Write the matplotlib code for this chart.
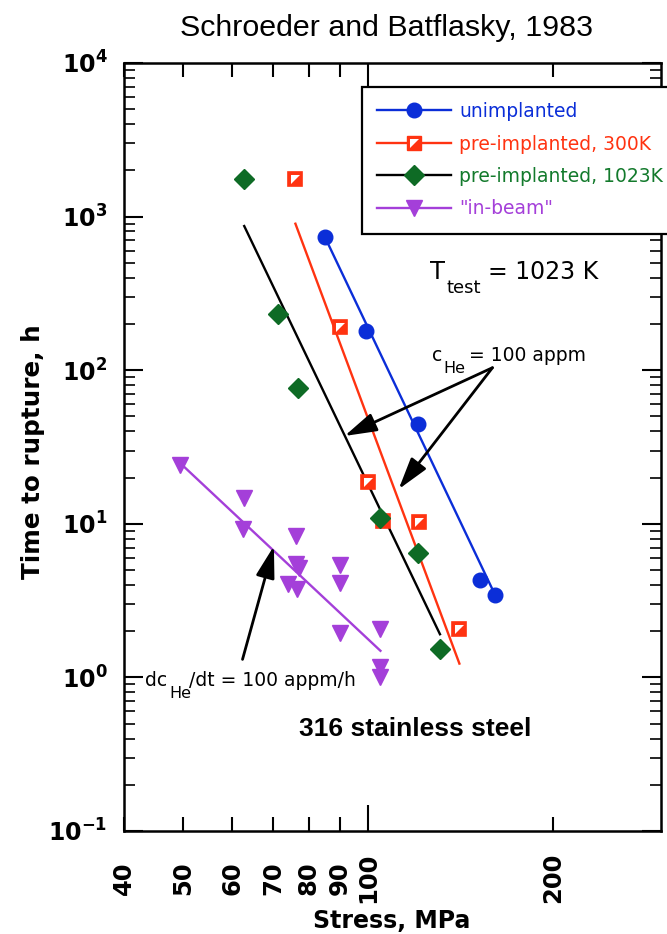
import matplotlib
matplotlib.use("Agg")
import matplotlib.pyplot as plt
from matplotlib.lines import Line2D
from matplotlib.legend_handler import HandlerTuple
from matplotlib.ticker import LogLocator, FixedLocator, FixedFormatter, NullFormatter
from matplotlib import font_manager as fm

# ---------------- data ----------------
unimpl_stress = [85.0, 99.0, 120.7, 152.2, 161.0]
unimpl_time = [736, 180, 44.4, 4.29, 3.44]

pre300_stress = [76.1, 89.8, 99.8, 105.6, 120.8, 140.8]
pre300_time = [1750, 192, 18.7, 10.4, 10.2, 2.06]

pre1023_stress = [62.7, 71.3, 76.7, 104.6, 120.7, 130.9]
pre1023_time = [1750, 233, 76.2, 10.9, 6.49, 1.54]

inbeam_stress = [49.3, 62.8, 62.4, 76.2, 76.2, 77.1, 74.0, 76.5,
                 89.8, 89.8, 89.8, 104.7, 104.7, 104.7]
inbeam_time = [24.1, 14.8, 9.2, 8.33, 5.45, 5.13, 4.04, 3.75,
               5.37, 4.14, 1.95, 2.06, 1.17, 1.0]

# fitted trend lines (c_He = 100 appm, dc/dt = 100 appm/h)
unimpl_fit_stress = [85.0, 161.0]
unimpl_fit_time = [736, 3.44]
pre300_fit_stress = [76.1, 140.8]
pre300_fit_time = [899, 1.23]
pre1023_fit_stress = [62.8, 130.9]
pre1023_fit_time = [868, 1.91]
inbeam_fit_stress = [49.3, 104.7]
inbeam_fit_time = [25.0, 1.49]

series_labels = ["unimplanted", "pre-implanted, 300K",
                 "pre-implanted, 1023K", "\"in-beam\""]

xmajor_ticks = [100]
xmajor_labels = ["100"]
xminor_ticks = [40, 50, 60, 70, 80, 90, 200]
xminor_labels = ["40", "50", "60", "70", "80", "90", "200"]
ytick_values = [0.1, 1, 10, 100, 1000, 10000]
ytick_labels = [r"$\mathbf{10^{-1}}$", r"$\mathbf{10^{0}}$", r"$\mathbf{10^{1}}$",
                r"$\mathbf{10^{2}}$", r"$\mathbf{10^{3}}$", r"$\mathbf{10^{4}}$"]

# arrows (tail, tip) in data units
arrow_che_tail = (159.4, 103.8)
arrow_che_tips = [(91.5, 37.3), (112.1, 16.8)]
arrow_dc_tail = (62.4, 1.31)
arrow_dc_tip = (70.2, 7.17)

# ---------------- style ----------------
BLUE = "#0B2ED8"
RED = "#FF3311"
GREEN = "#0E6B25"
GREEN_TXT = "#137A2C"
PURPLE = "#A43FD9"

names = {f.name for f in fm.fontManager.ttflist}
if "Liberation Sans Narrow" in names:
    NARROW, NSCALE = "Liberation Sans Narrow", 1.0
else:
    NARROW, NSCALE = "Liberation Sans", 0.84

plt.rcParams["font.family"] = ["DejaVu Sans"]
plt.rcParams["mathtext.fontset"] = "dejavusans"

W, H = 667, 934
fig = plt.figure(figsize=(W / 100, H / 100), dpi=100)


def fx(px):
    return px / W


def fy(py):
    return 1 - py / H


ax = fig.add_axes([fx(124), fy(831), fx(661) - fx(124), fy(63) - fy(831)])
ax.set_xscale("log")
ax.set_yscale("log")

# lines
ax.plot(unimpl_fit_stress, unimpl_fit_time, color=BLUE, lw=1.7, zorder=2)
ax.plot(pre300_fit_stress, pre300_fit_time, color=RED, lw=1.7, zorder=2)
ax.plot(pre1023_fit_stress, pre1023_fit_time, color="black", lw=1.7, zorder=2)
ax.plot(inbeam_fit_stress, inbeam_fit_time, color=PURPLE, lw=1.7, zorder=2)

# markers
ax.plot(unimpl_stress, unimpl_time, ls="none", marker="o", ms=10.5,
        color=BLUE, mec=BLUE, zorder=5)
ax.plot(pre300_stress, pre300_time, ls="none", marker="s", ms=10.5,
        mfc=RED, mec=RED, mew=1.2, zorder=4)
TRI = [(-1, 1), (1, 1), (-1, -1), (-1, 1)]
ax.plot(pre300_stress, pre300_time, ls="none", marker=TRI, ms=6.5,
        mfc="white", mec="none", zorder=4.1)
ax.plot(pre1023_stress, pre1023_time, ls="none", marker="D", ms=9.8,
        mfc=GREEN, mec=GREEN, zorder=4.5)
ax.plot(inbeam_stress, inbeam_time, ls="none", marker="v", ms=12,
        mfc=PURPLE, mec=PURPLE, zorder=4)

ax.set_xlim(40, 300)
ax.set_ylim(0.1, 1e4)

ax.xaxis.set_major_locator(FixedLocator(xmajor_ticks))
ax.xaxis.set_major_formatter(FixedFormatter(xmajor_labels))
ax.xaxis.set_minor_locator(FixedLocator(xminor_ticks))
ax.xaxis.set_minor_formatter(FixedFormatter(xminor_labels))
ax.yaxis.set_major_locator(FixedLocator(ytick_values))
ax.yaxis.set_major_formatter(FixedFormatter(ytick_labels))
ax.yaxis.set_minor_locator(LogLocator(base=10, subs=range(2, 10), numticks=20))
ax.yaxis.set_minor_formatter(NullFormatter())

ax.tick_params(axis="both", which="both", direction="in", top=True, right=True)
ax.tick_params(axis="y", which="major", length=14, width=1.5, labelsize=17, pad=12)
ax.tick_params(axis="y", which="minor", length=8, width=1.2)
ax.tick_params(axis="x", which="major", length=19, width=1.5, labelsize=17.5,
               pad=34, labelrotation=90)
ax.tick_params(axis="x", which="minor", length=10, width=1.5, labelsize=17.5,
               pad=34, labelrotation=90)
for lab in ax.get_xticklabels(which="both"):
    lab.set_fontweight("bold")
    lab.set_va("center")
for s in ax.spines.values():
    s.set_linewidth(1.8)

# arrows
astyle = dict(arrowstyle="-|>,head_length=0.85,head_width=0.25", color="black",
              lw=2.0, shrinkA=0, shrinkB=0, mutation_scale=23)
for tip in arrow_che_tips:
    ax.annotate("", xy=tip, xytext=arrow_che_tail, arrowprops=astyle, zorder=6)
ax.annotate("", xy=arrow_dc_tip, xytext=arrow_dc_tail, arrowprops=astyle, zorder=6)

# legend
h_blue = Line2D([], [], color=BLUE, lw=1.7, marker="o", ms=10.5)
h_red = (Line2D([], [], color=RED, lw=1.7, marker="s", ms=10.5, mfc=RED, mec=RED),
         Line2D([], [], ls="none", marker=TRI, ms=6.5, mfc="white", mec="none"))
h_black = Line2D([], [], color="black", lw=1.7, marker="D", ms=9.8, mfc=GREEN, mec=GREEN)
h_purple = Line2D([], [], color=PURPLE, lw=1.7, marker="v", ms=12, mfc=PURPLE, mec=PURPLE)
leg = ax.legend([h_blue, h_red, h_black, h_purple], series_labels,
                handler_map={tuple: HandlerTuple(ndivide=1)},
                loc="upper left", bbox_to_anchor=(fx(362), fy(87)),
                bbox_transform=fig.transFigure, borderaxespad=0,
                fontsize=13.5, frameon=True, fancybox=False, framealpha=1,
                edgecolor="black", borderpad=0.8, handlelength=3.95,
                handletextpad=0.42, labelspacing=0.72)
leg.get_frame().set_linewidth(1.6)
for t, c in zip(leg.get_texts(), [BLUE, RED, GREEN_TXT, PURPLE]):
    t.set_color(c)
leg.set_zorder(10)

# texts
fig.text(fx(386), fy(28), "Schroeder and Batflasky, 1983", ha="center", va="center",
         fontsize=26 * NSCALE, family=NARROW)
fig.text(fx(33), fy(452), "Time to rupture, h", rotation=90, ha="center",
         va="center", fontsize=17.7, fontweight="bold")
fig.text(fx(392), fy(921), "Stress, MPa", ha="center", va="center",
         fontsize=17, fontweight="bold")


def put(x, y, s, size):
    fig.text(fx(x), fy(y), s, fontsize=size, va="baseline", ha="left")


# T_test = 1023 K
put(430, 279, "T", 17.5)
put(446, 293, "test", 13)
put(488, 279, "= 1023 K", 17)
# c_He = 100 appm
put(432, 361, "c", 13.5)
put(443, 373, "He", 11.5)
put(469, 361, "= 100 appm", 13.5)
# dc_He/dt = 100 appm/h
put(145, 686, "dc", 13.5)
put(169, 698, "He", 11.5)
put(189, 686, "/dt = 100 appm/h", 13.5)

fig.text(fx(299), fy(736), "316 stainless steel", fontsize=19,
         fontweight="bold", family=NARROW, va="baseline", ha="left")

fig.savefig("out.png", dpi=100)
